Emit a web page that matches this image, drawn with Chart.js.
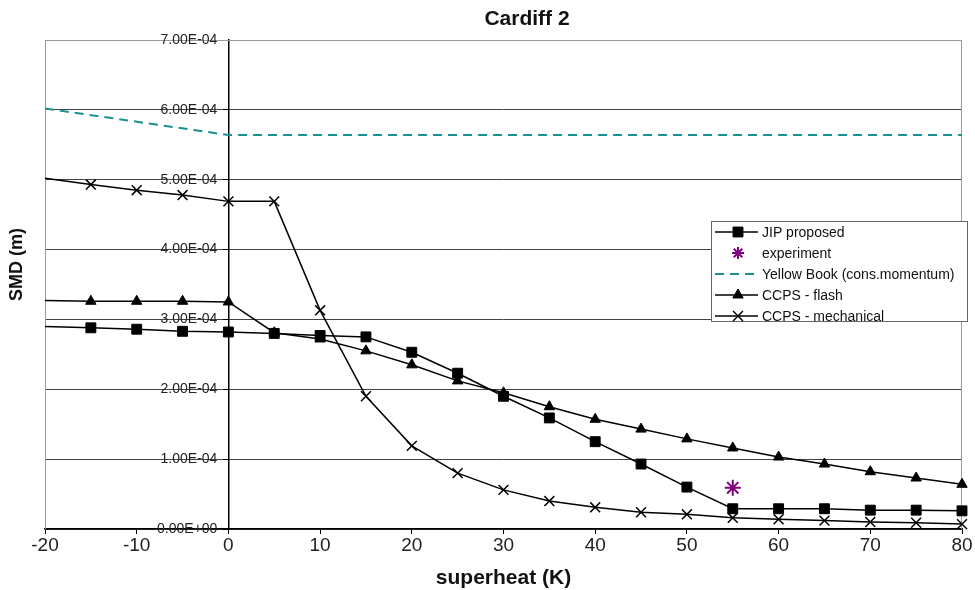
<!DOCTYPE html>
<html>
<head>
<meta charset="utf-8">
<script src="https://cdn.jsdelivr.net/npm/chart.js@4/dist/chart.umd.min.js"></script>
<style>
  html, body { margin: 0; padding: 0; background: #fff; }
  #wrap { width: 975px; height: 590px; }
</style>
</head>
<body>
<div id="wrap"><canvas id="chart" width="975" height="590"></canvas></div>
<script>
const superheat = [-20, -15, -10, -5, 0, 5, 10, 15, 20, 25, 30, 35, 40, 45, 50, 55, 60, 65, 70, 75, 80];
const jipProposed = [2.90e-4, 2.88e-4, 2.86e-4, 2.83e-4, 2.82e-4, 2.80e-4, 2.77e-4, 2.75e-4, 2.53e-4, 2.23e-4, 1.90e-4,
  1.59e-4, 1.25e-4, 0.93e-4, 0.60e-4, 0.29e-4, 0.29e-4, 0.29e-4, 0.27e-4, 0.27e-4, 0.26e-4];
const ccpsFlash = [3.27e-4, 3.26e-4, 3.26e-4, 3.26e-4, 3.25e-4, 2.81e-4, 2.72e-4, 2.55e-4, 2.35e-4, 2.12e-4, 1.95e-4,
  1.75e-4, 1.57e-4, 1.43e-4, 1.29e-4, 1.16e-4, 1.03e-4, 0.93e-4, 0.82e-4, 0.73e-4, 0.64e-4];
const ccpsMechanical = [5.02e-4, 4.93e-4, 4.85e-4, 4.78e-4, 4.69e-4, 4.69e-4, 3.13e-4, 1.90e-4, 1.19e-4, 0.80e-4, 0.56e-4,
  0.40e-4, 0.31e-4, 0.24e-4, 0.21e-4, 0.16e-4, 0.14e-4, 0.12e-4, 0.10e-4, 0.09e-4, 0.07e-4];
const yellowBookX = [-20, 0, 80];
const yellowBookY = [6.02e-4, 5.64e-4, 5.64e-4];
const experimentX = [55];
const experimentY = [0.59e-4];
const xTicks = [-20, -10, 0, 10, 20, 30, 40, 50, 60, 70, 80];
const yTicks = [0, 1e-4, 2e-4, 3e-4, 4e-4, 5e-4, 6e-4, 7e-4];

const FONT = "'Liberation Sans', Arial, sans-serif";

function pairs(xs, ys) {
  return xs.map(function (x, i) { return { x: x, y: ys[i] }; });
}

// Excel style 7.00E-04
function sci(v) {
  var parts = Number(v).toExponential(2).split("e");
  var exp = parseInt(parts[1], 10);
  var sign = exp < 0 ? "-" : "+";
  var digits = String(Math.abs(exp)).padStart(2, "0");
  return parts[0] + "E" + sign + digits;
}

function hideFirst(r) {
  return function (ctx) { return ctx.dataIndex === 0 ? 0 : r; };
}

const framePlugin = {
  id: "frame",
  beforeDatasetsDraw(chart) {
    const a = chart.chartArea;
    const ctx = chart.ctx;
    ctx.save();
    ctx.strokeStyle = "#999";
    ctx.lineWidth = 1;
    ctx.beginPath();
    ctx.moveTo(a.left + 0.5, a.bottom);
    ctx.lineTo(a.left + 0.5, a.top + 0.5);
    ctx.lineTo(a.right - 0.5, a.top + 0.5);
    ctx.lineTo(a.right - 0.5, a.bottom);
    ctx.stroke();

    // y tick labels sit left of the axis that crosses at x = 0
    const ys = chart.scales.y;
    const axisX = chart.scales.x.getPixelForValue(0);
    ctx.fillStyle = "#222";
    ctx.font = "14px " + FONT;
    ctx.textAlign = "right";
    ctx.textBaseline = "middle";
    ys.ticks.forEach(function (t) {
      ctx.fillText(sci(t.value), axisX - 11, ys.getPixelForValue(t.value));
    });
    ctx.restore();
  },
  afterDraw(chart) {
    const ctx = chart.ctx;
    const a = chart.chartArea;
    ctx.save();
    ctx.fillStyle = "#111";
    ctx.textAlign = "center";
    ctx.textBaseline = "middle";
    ctx.font = "bold 21px " + FONT;
    ctx.fillText("Cardiff 2", 527, 19);
    ctx.translate(17, (a.top + a.bottom) / 2 - 20);
    ctx.rotate(-Math.PI / 2);
    ctx.font = "bold 18px " + FONT;
    ctx.fillText("SMD (m)", 0, 0);
    ctx.restore();
  },
};

// legend box sitting inside the plot, like the Excel original
const boxLegend = {
  id: "boxLegend",
  afterDraw(chart) {
    const ctx = chart.ctx;
    const left = 711, top = 221, w = 256, h = 100, row = 21;
    ctx.save();
    ctx.fillStyle = "#fff";
    ctx.fillRect(left, top, w, h);
    ctx.strokeStyle = "#666";
    ctx.lineWidth = 1;
    ctx.strokeRect(left + 0.5, top + 0.5, w, h);
    chart.data.datasets.forEach(function (ds, i) {
      const y = top + 11 + i * row;
      ctx.save();
      if (ds.showLine !== false) {
        ctx.strokeStyle = ds.borderColor;
        ctx.lineWidth = ds.borderWidth;
        ctx.setLineDash(ds.borderDash || []);
        ctx.beginPath();
        ctx.moveTo(left + 4, y);
        ctx.lineTo(left + 47, y);
        ctx.stroke();
      }
      ctx.setLineDash([]);
      if (ds.pointStyle && ds.legendRadius) {
        ctx.strokeStyle = ds.pointBorderColor;
        ctx.fillStyle = ds.pointBackgroundColor;
        ctx.lineWidth = ds.pointBorderWidth;
        Chart.helpers.drawPoint(ctx, {
          pointStyle: ds.pointStyle,
          radius: ds.legendRadius,
          rotation: 0,
          borderWidth: ds.pointBorderWidth,
        }, left + 27, y);
      }
      ctx.restore();
      ctx.fillStyle = "#111";
      ctx.font = "14px " + FONT;
      ctx.textAlign = "left";
      ctx.textBaseline = "middle";
      ctx.fillText(ds.label, left + 51, y + 1);
    });
    ctx.restore();
  },
};

const ctx = document.getElementById("chart");
const myChart = new Chart(ctx, {
  type: "scatter",
  data: {
    datasets: [
      {
        label: "JIP proposed",
        data: pairs(superheat, jipProposed),
        showLine: true,
        borderColor: "#000",
        borderWidth: 1.5,
        pointStyle: "rect",
        pointRadius: hideFirst(7),
        legendRadius: 7,
        pointBackgroundColor: "#000",
        pointBorderColor: "#000",
        pointBorderWidth: 1,
        clip: false,
      },
      {
        label: "experiment",
        data: pairs(experimentX, experimentY),
        showLine: false,
        borderColor: "#800080",
        borderWidth: 2,
        pointStyle: "star",
        pointRadius: 8,
        legendRadius: 6,
        pointBackgroundColor: "#800080",
        pointBorderColor: "#800080",
        pointBorderWidth: 2,
        clip: false,
      },
      {
        label: "Yellow Book (cons.momentum)",
        data: pairs(yellowBookX, yellowBookY),
        showLine: true,
        borderColor: "#1a9090",
        borderWidth: 2,
        borderDash: [9, 6],
        pointRadius: 0,
        pointStyle: false,
        clip: false,
      },
      {
        label: "CCPS - flash",
        data: pairs(superheat, ccpsFlash),
        showLine: true,
        borderColor: "#000",
        borderWidth: 1.5,
        pointStyle: "triangle",
        pointRadius: hideFirst(6),
        legendRadius: 6,
        pointBackgroundColor: "#000",
        pointBorderColor: "#000",
        pointBorderWidth: 1,
        clip: false,
      },
      {
        label: "CCPS - mechanical",
        data: pairs(superheat, ccpsMechanical),
        showLine: true,
        borderColor: "#000",
        borderWidth: 1.5,
        pointStyle: "crossRot",
        pointRadius: hideFirst(7),
        legendRadius: 7,
        pointBackgroundColor: "#000",
        pointBorderColor: "#000",
        pointBorderWidth: 1.5,
        clip: false,
      },
    ],
  },
  options: {
    responsive: false,
    maintainAspectRatio: false,
    animation: false,
    layout: { padding: { left: 45, right: 13, top: 40, bottom: 0 } },
    elements: { line: { tension: 0 } },
    plugins: {
      legend: { display: false },
      title: { display: false },
      tooltip: { enabled: false },
    },
    scales: {
      x: {
        type: "linear",
        position: "bottom",
        min: -20,
        max: 80,
        afterBuildTicks: function (s) { s.ticks = xTicks.map(function (v) { return { value: v }; }); },
        afterFit: function (s) { s.height = 61; },
        ticks: { font: { size: 19, family: FONT }, color: "#222", padding: 0, maxRotation: 0 },
        grid: { drawOnChartArea: false, drawTicks: true, tickLength: 5, tickColor: "#000" },
        border: { color: "#000", width: 1.5 },
        title: {
          display: true,
          text: "superheat (K)",
          font: { size: 21, weight: "bold", family: FONT },
          color: "#111",
          padding: { top: 0, bottom: -1 },
        },
      },
      y: {
        type: "linear",
        position: { x: 0 },
        min: 0,
        max: 7e-4,
        afterBuildTicks: function (s) { s.ticks = yTicks.map(function (v) { return { value: v }; }); },
        ticks: { display: false },
        grid: {
          color: function (c) { return c.tick && c.tick.value > 6.9e-4 ? "#999" : "#444"; },
          lineWidth: 1,
          drawTicks: true,
          tickLength: 5,
          tickColor: "#000",
        },
        border: { color: "#000", width: 1.5 },
      },
    },
  },
  plugins: [framePlugin, boxLegend],
});
</script>
</body>
</html>
